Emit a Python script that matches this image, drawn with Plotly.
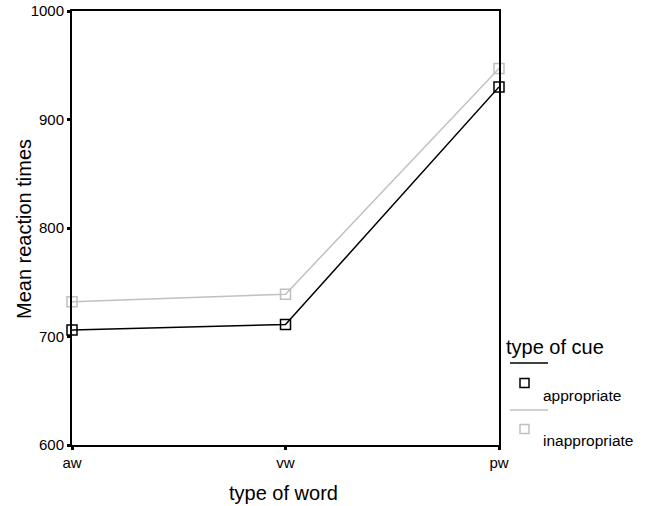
import plotly.graph_objects as go

categories = ["aw", "vw", "pw"]
appropriate = [706, 711, 930]
inappropriate = [732, 739, 947]
y_ticks = [600, 700, 800, 900, 1000]
series_names = ["appropriate", "inappropriate"]
colors = ["black", "#c0c0c0"]

FONT = "Arial, Liberation Sans, sans-serif"
xs = list(range(len(categories)))

# figure geometry in screen pixels (page body margin removed below)
W, H = 647, 506
PL, PR, PT, PB = 72, 499, 11, 445  # plot area edges
pw, ph = PR - PL, PB - PT

def px(x):
    return (x - PL) / pw

def py(y):
    return (PB - y) / ph

fig = go.Figure()
for name, vals, col in zip(series_names, [appropriate, inappropriate], colors):
    fig.add_trace(go.Scatter(
        x=xs, y=vals, mode="lines+markers", name=name,
        line=dict(color=col, width=1.5),
        marker=dict(symbol="square-open", size=10, color=col, line=dict(width=1.5, color=col)),
        showlegend=False, cliponaxis=False,
    ))

fig.update_layout(
    width=W, height=H,
    margin=dict(l=PL, r=W - PR, t=PT, b=H - PB),
    plot_bgcolor="white", paper_bgcolor="white",
    font=dict(family=FONT, color="black"),
    xaxis=dict(
        range=[0, 2], tickmode="array", tickvals=xs, ticktext=categories, automargin=False,
        showgrid=False, zeroline=False, showline=True, linecolor="black", linewidth=2, mirror=True,
        ticks="outside", ticklen=3, tickwidth=3, tickcolor="black",
        tickfont=dict(size=15, family=FONT, color="black"),
    ),
    yaxis=dict(
        range=[600, 1000], tickmode="array", tickvals=y_ticks, automargin=False,
        showgrid=False, zeroline=False, showline=True, linecolor="black", linewidth=2, mirror=True,
        ticks="outside", ticklen=3, tickwidth=3, tickcolor="black",
        tickfont=dict(size=15, family=FONT, color="black"),
    ),
)

# axis titles
fig.add_annotation(x=px(283), y=py(493), xref="paper", yref="paper", text="type of word", showarrow=False,
                   xanchor="center", yanchor="middle", font=dict(size=20, family=FONT, color="black"))
fig.add_annotation(x=px(24), y=py(229), xref="paper", yref="paper", text="Mean reaction times", showarrow=False,
                   textangle=-90, xanchor="center", yanchor="middle", font=dict(size=20, family=FONT, color="black"))

# manual legend (SPSS style)
fig.add_annotation(x=px(504), y=py(347), xref="paper", yref="paper", text="type of cue", showarrow=False,
                   xanchor="left", yanchor="middle", font=dict(size=20, color="black", family=FONT))
legend_rows = [(363, 383, 395), (410, 429, 440)]
for (ly, my, ty), name, col in zip(legend_rows, series_names, colors):
    fig.add_annotation(x=px(541), y=py(ty), xref="paper", yref="paper", text=name, showarrow=False,
                       xanchor="left", yanchor="middle", font=dict(size=15.5, color="black", family=FONT))
    fig.add_shape(type="line", xref="paper", yref="paper", x0=px(510), x1=px(548), y0=py(ly), y1=py(ly),
                  line=dict(color=col, width=1.5))
    fig.add_shape(type="rect", xref="paper", yref="paper", x0=px(520), x1=px(529), y0=py(my - 4.5), y1=py(my + 4.5),
                  line=dict(color=col, width=1.5), fillcolor="white")

fig.write_html("out.html", config={"displayModeBar": False},
               post_script="document.body.style.margin='0';")
